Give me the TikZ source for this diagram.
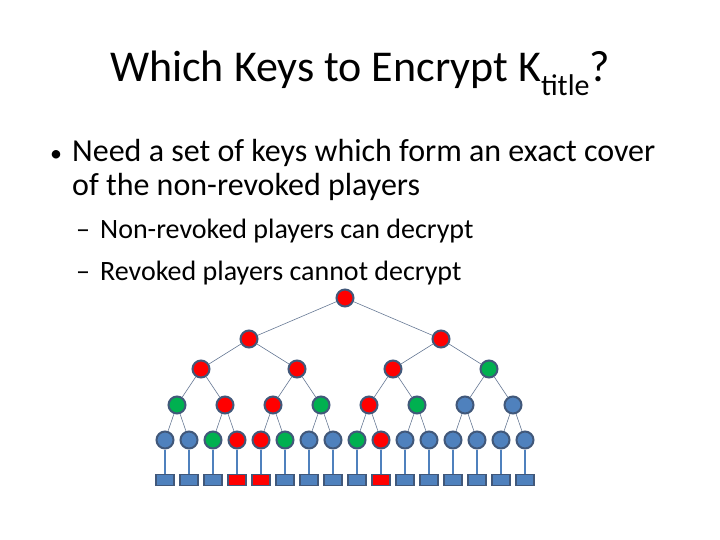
\documentclass[tikz,border=0pt]{standalone}
\usepackage{fontspec}
\setmainfont{Carlito}
\begin{document}
\begin{tikzpicture}[x=1pt,y=-1pt,
  nd/.style={circle,draw=ndborder,line width=2pt,minimum size=17pt,inner sep=0pt},
  lf/.style={rectangle,draw=ndborder,line width=1.5pt,minimum width=18pt,minimum height=11pt,inner sep=0pt},
  ed/.style={draw=ndborder!80,line width=0.6pt},
  txt/.style={anchor=base west,inner sep=0pt}]
\definecolor{ndborder}{HTML}{41587A}
\definecolor{bl}{HTML}{4F81BD}
\definecolor{rd}{HTML}{FF0000}
\definecolor{gr}{HTML}{00B050}
\useasboundingbox (0,0) rectangle (720,540);
\node[anchor=base,inner sep=0pt,font=\fontsize{44}{50}\selectfont] (title) at (360,82) {Which Keys to Encrypt K\raisebox{-0.3em}{\fontsize{30}{34}\selectfont title}?};
\node[txt,font=\fontsize{24}{36}\selectfont] (b1) at (50,162) {•};
\node[txt,font=\fontsize{32}{36}\selectfont] (t1) at (72,162) {Need a set of keys which form an exact cover};
\node[txt,font=\fontsize{32}{36}\selectfont] (t2) at (72,196) {of the non-revoked players};
\node[txt,font=\fontsize{28}{30}\selectfont] (s0) at (76,238) {–};
\node[txt,font=\fontsize{28}{30}\selectfont] (s1) at (100,238) {Non-revoked players can decrypt};
\node[txt,font=\fontsize{28}{30}\selectfont] (s3) at (76,280) {–};
\node[txt,font=\fontsize{28}{30}\selectfont] (s2) at (100,280) {Revoked players cannot decrypt};
\node[nd,fill=rd] (r) at (345,298) {};
\foreach \c [count=\i from 0] in {rd,rd}{
  \node[nd,fill=\c] (a\i) at (249+192*\i,339) {};
  \draw[ed] (r) -- (a\i);}
\foreach \c [count=\i from 0] in {rd,rd,rd,gr}{
  \pgfmathtruncatemacro\p{int(\i/2)}
  \node[nd,fill=\c] (b\i) at (201+96*\i,369) {};
  \draw[ed] (a\p) -- (b\i);}
\foreach \c [count=\i from 0] in {gr,rd,rd,gr,rd,gr,bl,bl}{
  \pgfmathtruncatemacro\p{int(\i/2)}
  \node[nd,fill=\c] (c\i) at (177+48*\i,405) {};
  \draw[ed] (b\p) -- (c\i);}
\foreach \c/\d [count=\i from 0] in {bl/bl,bl/bl,gr/bl,rd/rd,rd/rd,gr/bl,bl/bl,bl/bl,gr/bl,rd/rd,bl/bl,bl/bl,bl/bl,bl/bl,bl/bl,bl/bl}{
  \pgfmathtruncatemacro\p{int(\i/2)}
  \node[nd,fill=\c] (d\i) at (165+24*\i,440) {};
  \draw[ed] (c\p) -- (d\i);
  \node[lf,fill=\d] (e\i) at (165+24*\i,480) {};
  \draw[draw=bl,line width=2pt] (d\i) -- (e\i);}
\end{tikzpicture}
\end{document}
